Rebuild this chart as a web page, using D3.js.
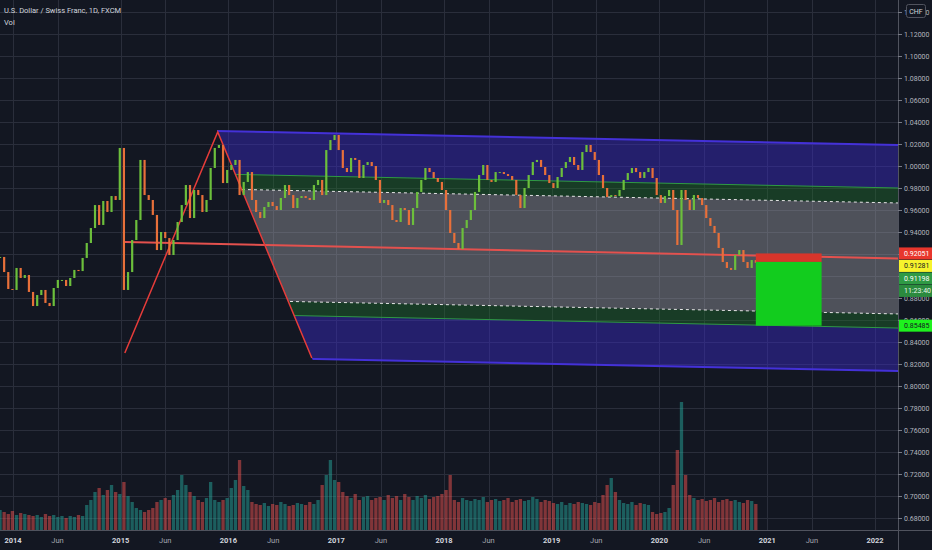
<!DOCTYPE html>
<html>
<head>
<meta charset="utf-8">
<script src="https://cdn.jsdelivr.net/npm/d3@7"></script>
<style>
html, body { margin: 0; padding: 0; background: #131722; }
svg { display: block; font-family: Roboto, "Open Sans", sans-serif; }
</style>
</head>
<body>
<svg id="chart" width="932" height="550"></svg>
<script>
// bars are 2-week periods starting on this date
var startDate = "2013-11-18";
var stepDays = 14;

var closes = [
    0.9173, 0.9036, 0.8882, 0.8873, 0.9073, 0.8982, 0.9009, 0.8855, 0.8727, 0.8827,
    0.8873, 0.8755, 0.8727, 0.8891, 0.8964, 0.8964, 0.8909, 0.8982, 0.9055, 0.9045,
    0.9164, 0.9300, 0.9436, 0.9645, 0.9464, 0.9682, 0.9582, 0.9727, 0.9691, 1.0164,
    0.8873, 0.9036, 0.9327, 0.9509, 1.0055, 0.9736, 0.9691, 0.9555, 0.9236, 0.9400,
    0.9345, 0.9191, 0.9327, 0.9491, 0.9645, 0.9827, 0.9527, 0.9782, 0.9736, 0.9582,
    0.9691, 0.9982, 1.0164, 1.0191, 0.9845, 0.9964, 1.0009, 1.0055, 0.9736, 0.9855,
    0.9945, 0.9691, 0.9582, 0.9527, 0.9627, 0.9673, 0.9636, 0.9600, 0.9709, 0.9827,
    0.9736, 0.9618, 0.9709, 0.9727, 0.9709, 0.9691, 0.9827, 0.9873, 0.9736, 1.0145,
    1.0236, 1.0282, 1.0145, 0.9982, 0.9945, 1.0073, 1.0055, 0.9891, 1.0009, 1.0036,
    1.0000, 0.9873, 0.9664, 0.9691, 0.9645, 0.9509, 0.9491, 0.9618, 0.9600, 0.9464,
    0.9618, 0.9764, 0.9873, 0.9982, 0.9945, 0.9891, 0.9855, 0.9782, 0.9600, 0.9391,
    0.9300, 0.9245, 0.9436, 0.9509, 0.9600, 0.9764, 0.9918, 1.0009, 0.9873, 0.9855,
    0.9945, 0.9945, 0.9927, 0.9909, 0.9873, 0.9736, 0.9618, 0.9800, 0.9918, 1.0036,
    1.0055, 0.9991, 0.9918, 0.9845, 0.9800, 0.9900, 0.9982, 1.0036, 1.0082, 1.0009,
    0.9964, 1.0127, 1.0191, 1.0127, 1.0055, 0.9918, 0.9800, 0.9718, 0.9736, 0.9727,
    0.9782, 0.9873, 0.9936, 0.9982, 0.9945, 0.9891, 0.9945, 0.9982, 0.9891, 0.9736,
    0.9664, 0.9727, 0.9782, 0.9600, 0.9282, 0.9782, 0.9691, 0.9600, 0.9736, 0.9709,
    0.9645, 0.9527, 0.9455, 0.9391, 0.9255, 0.9127, 0.9073, 0.9055, 0.9191, 0.9236,
    0.9127, 0.9073, 0.9145, 0.9120
];

var volumes = [
    20, 18, 16, 19, 15, 17, 16, 15, 14, 15,
    13, 16, 14, 15, 13, 14, 12, 14, 13, 15,
    14, 25, 30, 38, 42, 35, 40, 45, 38, 36,
    48, 34, 28, 22, 20, 18, 20, 22, 28, 30,
    32, 30, 35, 40, 55, 45, 38, 34, 30, 28,
    32, 48, 30, 28, 30, 32, 42, 50, 70, 44,
    40, 28, 26, 25, 27, 24, 26, 25, 28, 26,
    24, 25, 27, 26, 25, 28, 26, 30, 45, 55,
    70, 50, 48, 38, 34, 32, 36, 30, 33, 34,
    30, 32, 33, 30, 35, 32, 34, 30, 36, 33,
    30, 34, 32, 35, 31, 33, 34, 36, 40, 55,
    30, 28, 32, 30, 29, 31, 30, 33, 28, 30,
    31, 29, 30, 32, 28, 30, 31, 29, 30, 33,
    31, 28, 30, 29, 27, 26, 28, 25, 27, 26,
    28, 27, 26, 25, 28, 27, 35, 45, 52, 38,
    30, 27, 26, 28, 25, 27, 26, 25, 18, 16,
    17, 18, 22, 45, 80, 128, 55, 35, 32, 30,
    31, 29, 30, 32, 28, 30, 31, 29, 30, 28,
    27, 30, 29, 26
];

// 0.90 sits fully under the price tags in the reference, so it is not labelled
var priceTicks = [0.68, 0.70, 0.72, 0.74, 0.76, 0.78, 0.80, 0.82, 0.84, 0.86, 0.88, 0.90,
    0.92, 0.94, 0.96, 0.98, 1.00, 1.02, 1.04, 1.06, 1.08, 1.10, 1.12, 1.14];
var hiddenLabels = [0.90];

var timeTicks = ["2014-01-01", "2014-06-01", "2015-01-01", "2015-06-01", "2016-01-01", "2016-06-01",
    "2017-01-01", "2017-06-01", "2018-01-01", "2018-06-01", "2019-01-01", "2019-06-01",
    "2020-01-01", "2020-06-01", "2021-01-01", "2021-06-01", "2022-01-01"];
var timeLabels = ["2014", "Jun", "2015", "Jun", "2016", "Jun", "2017", "Jun", "2018", "Jun",
    "2019", "Jun", "2020", "Jun", "2021", "Jun", "2022"];

// drawings
var zigzagDates = ["2015-01-15", "2015-11-26", "2016-10-10"];
var zigzagPrices = [0.8300, 1.0309, 0.8255];

var medianDates = ["2015-01-15", "2022-03-20"];
var medianPrices = [0.9309, 0.9159];

var channelDates = ["2015-11-26", "2022-03-20"];
var blueTop = [1.0318, 1.0191];
var greenTop = [0.9927, 0.9800];
var dashTop = [0.9791, 0.9664];
var dashBottom = [0.8782, 0.8655];
var greenBottom = [0.8655, 0.8527];
var blueBottom = [0.8264, 0.8136];

var positionDates = ["2020-11-23", "2021-07-04"];
var stopPrice = 0.92051;
var entryPrice = 0.91281;
var targetPrice = 0.85485;

var tagValues = ["0.92051", "0.91281", "0.91198", "11:23:40"];
var tagPrices = [0.92051, 0.91281, 0.91198, 0.91198];
var tagFills = ["#e8362d", "#f7f32c", "#2f9a45", "#2b8a3e"];
var tagInk = ["#ffffff", "#131722", "#ffffff", "#e8f5e9"];

var W = 932, H = 550,
    plotRight = 898,
    plotBottom = 530;

var svg = d3.select("#chart");
var parse = d3.utcParse("%Y-%m-%d");

var x = d3.scaleUtc()
    .domain([parse("2014-01-01"), parse("2022-01-01")])
    .range([13, 875]);
var y = d3.scaleLinear()
    .domain([0.68, 1.12])
    .range([518, 34]);
var yVol = d3.scaleLinear()
    .domain([0, 130])
    .range([plotBottom, 400]);

var t0 = parse(startDate);
var bars = closes.map(function (c, i) {
    return {
        date: d3.utcDay.offset(t0, i * stepDays),
        open: i === 0 ? c : closes[i - 1],
        close: c,
        vol: volumes[i]
    };
});
var step = x(d3.utcDay.offset(t0, stepDays)) - x(t0);

svg.append("rect").attr("width", W).attr("height", H).attr("fill", "#131722");

svg.append("clipPath").attr("id", "plotClip")
    .append("rect").attr("x", 0).attr("y", 0).attr("width", plotRight).attr("height", plotBottom);

var plot = svg.append("g").attr("clip-path", "url(#plotClip)");

// grid
plot.append("g")
    .selectAll("line")
    .data(priceTicks)
    .enter().append("line")
    .attr("x1", 0).attr("x2", plotRight)
    .attr("y1", function (d) { return Math.round(y(d)) + 0.5; })
    .attr("y2", function (d) { return Math.round(y(d)) + 0.5; })
    .attr("stroke", "#2a2e3b");
plot.append("g")
    .selectAll("line")
    .data(timeTicks)
    .enter().append("line")
    .attr("y1", 0).attr("y2", plotBottom)
    .attr("x1", function (d) { return Math.round(x(parse(d))) + 0.5; })
    .attr("x2", function (d) { return Math.round(x(parse(d))) + 0.5; })
    .attr("stroke", "#2a2e3b");

// volume
plot.append("g")
    .selectAll("rect")
    .data(bars)
    .enter().append("rect")
    .attr("x", function (d) { return x(d.date) - step * 0.4; })
    .attr("width", step * 0.8)
    .attr("y", function (d) { return yVol(d.vol); })
    .attr("height", function (d) { return plotBottom - yVol(d.vol); })
    .attr("fill", function (d) { return d.close >= d.open ? "rgba(38,166,154,0.5)" : "rgba(239,83,80,0.5)"; });

// channel, clipped to the right of the falling zigzag leg
var zz = zigzagDates.map(function (d, i) { return [x(parse(d)), y(zigzagPrices[i])]; });
function legX(py) {
    return zz[1][0] + (py - zz[1][1]) * (zz[2][0] - zz[1][0]) / (zz[2][1] - zz[1][1]);
}
svg.append("clipPath").attr("id", "chanClip")
    .append("polygon")
    .attr("points", [[legX(0), 0], [plotRight, 0], [plotRight, plotBottom], [legX(plotBottom), plotBottom]].join(" "));

var cx0 = x(parse(channelDates[0])), cx1 = x(parse(channelDates[1]));
function chanY(prices, px) {
    var a = y(prices[0]), b = y(prices[1]);
    return a + (b - a) * (px - cx0) / (cx1 - cx0);
}
var xl = 140, xr = plotRight;
function band(pa, pb) {
    return [[xl, chanY(pa, xl)], [xr, chanY(pa, xr)], [xr, chanY(pb, xr)], [xl, chanY(pb, xl)]].join(" ");
}

var chan = plot.append("g").attr("clip-path", "url(#chanClip)");
var bands = [
    [blueTop, greenTop, "rgba(58,42,200,0.45)"],
    [greenTop, dashTop, "rgba(34,120,46,0.38)"],
    [dashTop, dashBottom, "rgba(160,162,170,0.42)"],
    [dashBottom, greenBottom, "rgba(34,120,46,0.38)"],
    [greenBottom, blueBottom, "rgba(58,42,200,0.45)"]
];
chan.selectAll("polygon")
    .data(bands)
    .enter().append("polygon")
    .attr("points", function (d) { return band(d[0], d[1]); })
    .attr("fill", function (d) { return d[2]; });

var chanLines = [
    [blueTop, "#4431d8", 2, null],
    [greenTop, "#2f9a44", 1, null],
    [dashTop, "#e6e6e6", 1, "3,3"],
    [dashBottom, "#e6e6e6", 1, "3,3"],
    [greenBottom, "#2f9a44", 1, null],
    [blueBottom, "#4431d8", 2, null]
];
chan.selectAll("line")
    .data(chanLines)
    .enter().append("line")
    .attr("x1", xl).attr("x2", xr)
    .attr("y1", function (d) { return chanY(d[0], xl); })
    .attr("y2", function (d) { return chanY(d[0], xr); })
    .attr("stroke", function (d) { return d[1]; })
    .attr("stroke-width", function (d) { return d[2]; })
    .attr("stroke-dasharray", function (d) { return d[3]; });

// red lines
var lineGen = d3.line();
plot.append("path")
    .attr("d", lineGen(medianDates.map(function (d, i) { return [x(parse(d)), y(medianPrices[i])]; })))
    .attr("fill", "none")
    .attr("stroke", "#e4514e")
    .attr("stroke-width", 2);
plot.append("path")
    .attr("d", lineGen(zz))
    .attr("fill", "none")
    .attr("stroke", "#e63c3a")
    .attr("stroke-width", 1.5);

// candles
plot.append("g")
    .selectAll("rect")
    .data(bars)
    .enter().append("rect")
    .attr("x", function (d) { return x(d.date) - 1.1; })
    .attr("width", 2.2)
    .attr("y", function (d) { return y(Math.max(d.open, d.close)); })
    .attr("height", function (d) { return Math.max(1, Math.abs(y(d.open) - y(d.close))); })
    .attr("fill", function (d) { return d.close >= d.open ? "#6cbf3c" : "#e8703a"; });

// short position box
var px0 = x(parse(positionDates[0])), px1 = x(parse(positionDates[1]));
plot.append("rect")
    .attr("x", px0).attr("width", px1 - px0)
    .attr("y", y(stopPrice)).attr("height", y(entryPrice) - y(stopPrice))
    .attr("fill", "#d8352b");
plot.append("rect")
    .attr("x", px0).attr("width", px1 - px0)
    .attr("y", y(entryPrice)).attr("height", y(targetPrice) - y(entryPrice))
    .attr("fill", "#12cc1e");

// axes frame
svg.append("line")
    .attr("x1", plotRight + 0.5).attr("x2", plotRight + 0.5)
    .attr("y1", 0).attr("y2", H)
    .attr("stroke", "#50535e");
svg.append("line")
    .attr("x1", 0).attr("x2", W)
    .attr("y1", plotBottom + 0.5).attr("y2", plotBottom + 0.5)
    .attr("stroke", "#50535e");

// price axis
var fmt = d3.format(".5f");
var labelled = priceTicks.filter(function (d) { return hiddenLabels.indexOf(d) < 0; });
var pa = svg.append("g");
pa.selectAll("line")
    .data(priceTicks)
    .enter().append("line")
    .attr("x1", plotRight).attr("x2", plotRight + 4)
    .attr("y1", function (d) { return Math.round(y(d)) + 0.5; })
    .attr("y2", function (d) { return Math.round(y(d)) + 0.5; })
    .attr("stroke", "#787b86");
pa.selectAll("text")
    .data(labelled)
    .enter().append("text")
    .attr("x", 904)
    .attr("y", function (d) { return y(d) + 2.5; })
    .attr("font-size", "7px")
    .attr("fill", "#b2b5be")
    .text(function (d) { return fmt(d); });

// time axis
svg.append("g")
    .selectAll("text")
    .data(timeTicks)
    .enter().append("text")
    .attr("x", function (d) { return x(parse(d)); })
    .attr("y", 543)
    .attr("text-anchor", "middle")
    .attr("font-size", "7.5px")
    .attr("font-weight", function (d, i) { return timeLabels[i] === "Jun" ? 400 : 700; })
    .attr("fill", function (d, i) { return timeLabels[i] === "Jun" ? "#a3a6af" : "#d1d4dc"; })
    .text(function (d, i) { return timeLabels[i]; });

// price tags, stacked so they do not overlap
var tagH = 12, prevC = -100;
var tags = svg.append("g");
tagValues.forEach(function (t, i) {
    var c = Math.max(y(tagPrices[i]), prevC + tagH + 0.5);
    prevC = c;
    tags.append("rect")
        .attr("x", plotRight + 1).attr("y", c - tagH / 2)
        .attr("width", W - plotRight - 1).attr("height", tagH)
        .attr("fill", tagFills[i]);
    tags.append("text")
        .attr("x", 904).attr("y", c + 2.5)
        .attr("font-size", "7px")
        .attr("fill", tagInk[i])
        .text(t);
});
var tc = y(targetPrice);
tags.append("rect")
    .attr("x", plotRight + 1).attr("y", tc - tagH / 2)
    .attr("width", W - plotRight - 1).attr("height", tagH)
    .attr("fill", "#1ef21e");
tags.append("text")
    .attr("x", 904).attr("y", tc + 2.5)
    .attr("font-size", "7px")
    .attr("fill", "#131722")
    .text(fmt(targetPrice));

// currency badge
svg.append("rect")
    .attr("x", 906.5).attr("y", 4.5).attr("width", 19).attr("height", 13).attr("rx", 2)
    .attr("fill", "#131722").attr("stroke", "#50535e");
svg.append("text")
    .attr("x", 916).attr("y", 13.5).attr("text-anchor", "middle")
    .attr("font-size", "7px").attr("fill", "#d1d4dc")
    .text("CHF");

// legend
svg.append("text")
    .attr("x", 4).attr("y", 13)
    .attr("font-size", "7.5px").attr("fill", "#d1d4dc")
    .text("U.S. Dollar / Swiss Franc, 1D, FXCM");
svg.append("text")
    .attr("x", 4).attr("y", 25)
    .attr("font-size", "7.5px").attr("fill", "#d1d4dc")
    .text("Vol");
</script>
</body>
</html>
